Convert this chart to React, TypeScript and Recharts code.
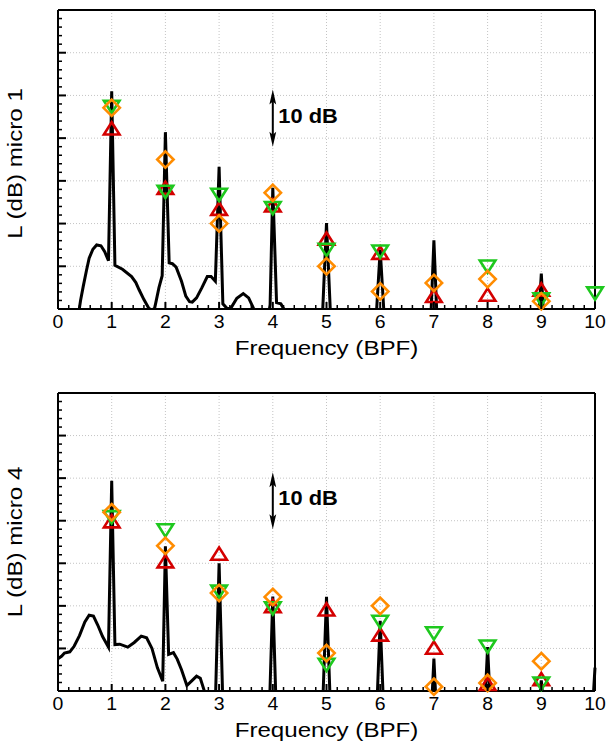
import React from 'react'
import {
  CartesianGrid,
  ComposedChart,
  Label,
  Line,
  ReferenceLine,
  Scatter,
  XAxis,
  YAxis,
} from 'recharts'

// Harmonic levels (dB, arbitrary offset).
const harmonics = [1, 2, 3, 4, 5, 6, 7, 8, 9, 10]

const micro1Red = [42.2, 28.3, 23.4, 24.2, 16.4, 13.1, 3.0, 3.3, 4.5, null]
const micro1Green = [47.4, 27.5, 26.8, 23.7, 13.9, 13.5, null, 10.0, 2.3, 3.7]
const micro1Orange = [47.1, 35.0, 20.0, 27.2, 10.0, 4.1, 6.1, 7.0, 1.8, null]

const micro4Red = [39.8, 30.4, 32.2, 19.9, 19.1, 13.2, 10.1, 1.6, 2.7, null]
const micro4Green = [40.9, 37.8, 23.4, 19.5, 6.2, 16.3, 13.6, 10.5, 1.8, null]
const micro4Orange = [42.0, 34.1, 23.0, 22.1, 8.9, 20.0, 1.0, 1.9, 7.0, null]

// Black spectrum, [frequency (BPF), level]. Values below 0 are clipped by the axis.
const spectrum1: [number, number][] = [
  [0.36, -3], [0.42, 2], [0.47, 5.3], [0.53, 9], [0.58, 11.9], [0.65, 14], [0.72, 15],
  [0.8, 14.8], [0.87, 13.4], [0.94, 11.3], [1.0, 51], [1.06, 10.2], [1.2, 9.3],
  [1.37, 7.6], [1.45, 6.2], [1.51, 4.5], [1.6, 2.2], [1.69, 0.2], [1.75, -0.3],
  [1.8, 0.2], [1.88, 5], [1.94, 7.8], [2.0, 41.4], [2.07, 10.8], [2.13, 10.6],
  [2.2, 9.8], [2.3, 6.5], [2.38, 3], [2.45, 1.7], [2.5, 1.6], [2.58, 2.6], [2.68, 5],
  [2.78, 7.6], [2.85, 7.6], [2.93, 6.5], [3.0, 33.3], [3.07, 1.2], [3.15, 0.1],
  [3.22, 0.2], [3.33, 2.5], [3.45, 3.6], [3.55, 2.6], [3.64, 0.2], [3.7, -3],
  [3.9, -3], [3.95, 1], [4.0, 28.4], [4.07, 1.5], [4.15, 1.2], [4.22, -0.3], [4.26, -3],
  [4.92, -3], [5.0, 20.1], [5.08, -3], [5.92, -3], [6.0, 13.9], [6.08, -3],
  [6.94, -3], [7.0, 16.1], [7.06, -3], [8.95, -3], [9.0, 8.3], [9.05, -3],
]

const spectrum4: [number, number][] = [
  [0.0, 7.6], [0.07, 8.2], [0.12, 8.9], [0.22, 9.2], [0.3, 10.5], [0.4, 13],
  [0.5, 16.2], [0.58, 17.8], [0.66, 17.6], [0.74, 15.5], [0.83, 12.8], [0.94, 10.3],
  [1.0, 49.4], [1.06, 10.9], [1.15, 11], [1.3, 10.3], [1.42, 11.4], [1.55, 12.9],
  [1.65, 12.5], [1.75, 10], [1.85, 5.5], [1.95, 2.3], [2.0, 34], [2.06, 8.6],
  [2.15, 9], [2.22, 7.5], [2.3, 5], [2.4, 1.3], [2.5, 2.5], [2.58, 3.5], [2.65, 3],
  [2.72, 0.2], [2.76, -3], [2.93, -3], [3.0, 30], [3.07, -3], [3.94, -3], [4.0, 22.2],
  [4.06, -3], [4.93, -3], [5.0, 22.1], [5.07, -3], [5.94, -3], [6.0, 16.5], [6.06, -3],
  [6.96, -3], [7.0, 7.6], [7.04, -3], [7.95, -3], [8.0, 10.3], [8.05, -3],
  [8.96, -3], [9.0, 2.5], [9.04, -3], [9.96, -3], [10.0, 5.5],
]

// "10 dB" scale bar, in data units (x = 4 BPF)
const scaleArrow = { x: 4, low: 38, high: 51.4, labelAt: 43.6, text: '10 dB' }

const xMajorTicks = [0, 1, 2, 3, 4, 5, 6, 7, 8, 9, 10]
const yMajorTicks = [0, 10, 20, 30, 40, 50, 60, 70]
const xGridValues = [1, 2, 3, 4, 5, 6, 7, 8, 9]
const yGridValues = [10, 20, 30, 40, 50, 60]
const xMinorTicks = xMajorTicks
  .slice(0, -1)
  .flatMap((t) => [0, 0.2, 0.4, 0.6, 0.8].map((f) => +(t + f).toFixed(1)))
  .concat(10)
const yMinorTicks = yMajorTicks
  .slice(0, -1)
  .flatMap((t) => [0, 2, 4, 6, 8].map((f) => t + f))
  .concat(70)

const RED = '#d40000'
const GREEN = '#1ec81e'
const ORANGE = '#ff8c00'
const FONT = '"Liberation Sans", Arial, Helvetica, sans-serif'

const toPoints = (values: (number | null)[]) =>
  harmonics
    .map((h, i) => ({ x: h, y: values[i] }))
    .filter((p) => p.y !== null)

const isMultiple = (v: number, step: number) =>
  Math.abs(v / step - Math.round(v / step)) < 1e-6

function XTick(props: any) {
  const { x, y, payload } = props
  const major = isMultiple(payload.value, 1)
  return (
    <g>
      <line x1={x} x2={x} y1={y} y2={y - (major ? 7 : 4)} stroke="#000" strokeWidth={major ? 2 : 1.5} />
      {major && (
        <text
          transform={`translate(${x},${y + 19}) scale(1.08,1)`}
          textAnchor="middle"
          fontSize={18}
          fontFamily={FONT}
          fill="#000"
        >
          {payload.value}
        </text>
      )}
    </g>
  )
}

function YTick(props: any) {
  const { x, y, payload } = props
  const major = isMultiple(payload.value, 10)
  return (
    <line x1={x} x2={x + (major ? 8 : 4)} y1={y} y2={y} stroke="#000" strokeWidth={major ? 2 : 1.5} />
  )
}

function UpTriangle({ cx, cy }: any) {
  return (
    <path
      d={`M${cx},${cy - 6.5}L${cx + 7.8},${cy + 5.8}L${cx - 7.8},${cy + 5.8}Z`}
      fill="none"
      stroke={RED}
      strokeWidth={2.6}
    />
  )
}

function DownTriangle({ cx, cy }: any) {
  return (
    <path
      d={`M${cx},${cy + 6.5}L${cx + 7.8},${cy - 5.8}L${cx - 7.8},${cy - 5.8}Z`}
      fill="none"
      stroke={GREEN}
      strokeWidth={2.6}
    />
  )
}

function Diamond({ cx, cy }: any) {
  return (
    <path
      d={`M${cx},${cy - 8.2}L${cx + 8.2},${cy}L${cx},${cy + 8.2}L${cx - 8.2},${cy}Z`}
      fill="none"
      stroke={ORANGE}
      strokeWidth={2.6}
    />
  )
}

function ArrowHead({ cx, cy, payload }: any) {
  const d = payload.dir
  return (
    <path
      d={`M${cx},${cy}L${cx + 3.4},${cy + d * 15}L${cx},${cy + d * 12}L${cx - 3.4},${cy + d * 15}Z`}
      fill="#000"
    />
  )
}

function ScaleText({ cx, cy }: any) {
  return (
    <text
      transform={`translate(${cx + 5.5},${cy}) scale(1.12,1)`}
      fontSize={19.5}
      fontWeight="bold"
      fontFamily={FONT}
      fill="#000"
    >
      {scaleArrow.text}
    </text>
  )
}

interface PanelProps {
  spectrum: [number, number][]
  red: (number | null)[]
  green: (number | null)[]
  orange: (number | null)[]
  yTitle: string
  yTitleShift: number
  height: number
  margin: { top: number; right: number; bottom: number; left: number }
}

function Panel({ spectrum, red, green, orange, yTitle, yTitleShift, height, margin }: PanelProps) {
  const specData = spectrum.map(([x, y]) => ({ x, y }))
  const shaft = [
    { x: scaleArrow.x, y: scaleArrow.low + 2 },
    { x: scaleArrow.x, y: scaleArrow.high - 2 },
  ]
  const heads = [
    { x: scaleArrow.x, y: scaleArrow.high, dir: 1 },
    { x: scaleArrow.x, y: scaleArrow.low, dir: -1 },
  ]
  const labelPoint = [{ x: scaleArrow.x, y: scaleArrow.labelAt }]

  return (
    <ComposedChart width={607} height={height} margin={margin}>
      <CartesianGrid
        stroke="#c4c4c4"
        strokeDasharray="1 2"
        horizontalValues={yGridValues}
        verticalValues={xGridValues}
      />
      <XAxis
        type="number"
        dataKey="x"
        domain={[0, 10]}
        ticks={xMinorTicks}
        interval={0}
        height={1}
        tickSize={0}
        tickMargin={0}
        tickLine={false}
        tick={XTick}
        axisLine={{ stroke: '#000', strokeWidth: 2 }}
      >
        <Label
          content={(p: any) => {
            const vb = p.viewBox
            return (
              <text
                transform={`translate(${vb.x + vb.width / 2},${vb.y + 46}) scale(1.15,1)`}
                textAnchor="middle"
                fontSize={21}
                fontFamily={FONT}
                fill="#000"
              >
                Frequency (BPF)
              </text>
            )
          }}
        />
      </XAxis>
      <YAxis
        type="number"
        domain={[0, 70]}
        ticks={yMinorTicks}
        interval={0}
        width={1}
        tickSize={0}
        tickMargin={0}
        tickLine={false}
        tick={YTick}
        axisLine={{ stroke: '#000', strokeWidth: 2 }}
      >
        <Label
          content={(p: any) => {
            const vb = p.viewBox
            return (
              <text
                transform={`translate(${vb.x + vb.width - 36},${vb.y + vb.height / 2 + yTitleShift}) rotate(-90) scale(1.15,1)`}
                textAnchor="middle"
                fontSize={21}
                fontFamily={FONT}
                fill="#000"
              >
                {yTitle}
              </text>
            )
          }}
        />
      </YAxis>
      <YAxis yAxisId="spec" type="number" domain={[0, 70]} allowDataOverflow hide />
      <ReferenceLine y={70} stroke="#000" strokeWidth={2} />
      <ReferenceLine x={10} stroke="#000" strokeWidth={2} />
      <Line
        yAxisId="spec"
        data={specData}
        dataKey="y"
        type="linear"
        stroke="#000"
        strokeWidth={3}
        dot={false}
        activeDot={false}
        isAnimationActive={false}
      />
      <Line
        data={shaft}
        dataKey="y"
        type="linear"
        stroke="#000"
        strokeWidth={2}
        dot={false}
        activeDot={false}
        isAnimationActive={false}
      />
      <Scatter data={heads} dataKey="y" shape={ArrowHead} isAnimationActive={false} />
      <Scatter data={labelPoint} dataKey="y" shape={ScaleText} isAnimationActive={false} />
      <Scatter data={toPoints(red)} dataKey="y" shape={UpTriangle} isAnimationActive={false} />
      <Scatter data={toPoints(green)} dataKey="y" shape={DownTriangle} isAnimationActive={false} />
      <Scatter data={toPoints(orange)} dataKey="y" shape={Diamond} isAnimationActive={false} />
    </ComposedChart>
  )
}

export default function App() {
  return (
    <div style={{ position: 'absolute', left: 0, top: 0, width: 607, height: 745, background: '#fff' }}>
      <div style={{ position: 'absolute', left: 0, top: 0 }}>
        <Panel
          spectrum={spectrum1}
          red={micro1Red}
          green={micro1Green}
          orange={micro1Orange}
          yTitle="L (dB) micro 1"
          yTitleShift={4}
          height={372}
          margin={{ top: 10, right: 12, bottom: 62, left: 57 }}
        />
      </div>
      <div style={{ position: 'absolute', left: 0, top: 372 }}>
        <Panel
          spectrum={spectrum4}
          red={micro4Red}
          green={micro4Green}
          orange={micro4Orange}
          yTitle="L (dB) micro 4"
          yTitleShift={0}
          height={373}
          margin={{ top: 21, right: 12, bottom: 53, left: 57 }}
        />
      </div>
    </div>
  )
}
